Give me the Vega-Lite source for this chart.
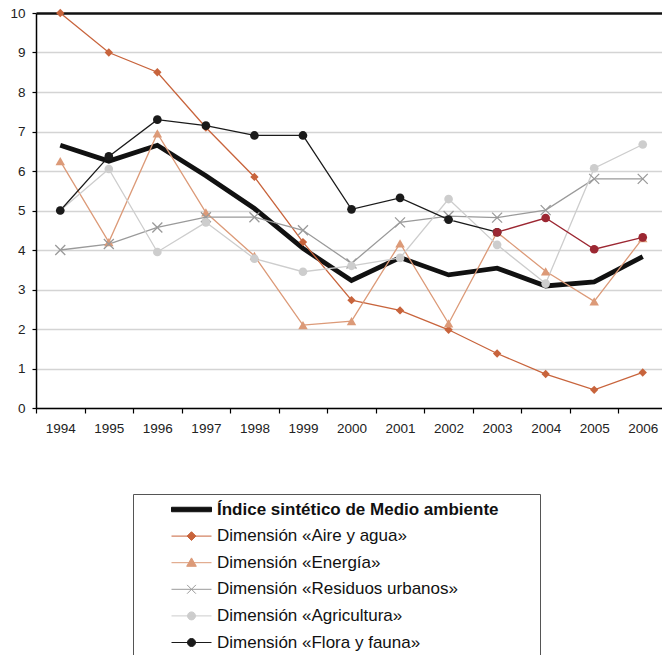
{
  "$schema": "https://vega.github.io/schema/vega-lite/v6.json",
  "width": 626,
  "height": 395,
  "autosize": {"type": "none"},
  "padding": {"left": 36, "top": 13, "right": 0, "bottom": 247},
  "background": "white",
  "config": {
    "view": {"stroke": null},
    "font": "Liberation Sans",
    "axis": {"labelFont": "Liberation Sans", "labelFontSize": 13.5, "labelColor": "#222", "domainColor": "#000", "tickColor": "#000", "title": null},
    "legend": {"title": null, "orient": "none", "legendX": 97, "legendY": 481,
      "strokeColor": "#555", "padding": 7, "symbolOpacity": 1, "symbolSize": 256, "symbolStrokeWidth": 1,
      "symbolOffset": 43, "labelOffset": 17, "rowPadding": 8.6,
      "labelFont": "Liberation Sans", "labelFontSize": 17, "labelColor": "#111", "labelLimit": 400}
  },
  "data": {"values": [
    {"anio": "1994", "serie": "Índice sintético de Medio ambiente", "valor": 6.65},
    {"anio": "1995", "serie": "Índice sintético de Medio ambiente", "valor": 6.25},
    {"anio": "1996", "serie": "Índice sintético de Medio ambiente", "valor": 6.65},
    {"anio": "1997", "serie": "Índice sintético de Medio ambiente", "valor": 5.88},
    {"anio": "1998", "serie": "Índice sintético de Medio ambiente", "valor": 5.05},
    {"anio": "1999", "serie": "Índice sintético de Medio ambiente", "valor": 4.04},
    {"anio": "2000", "serie": "Índice sintético de Medio ambiente", "valor": 3.23},
    {"anio": "2001", "serie": "Índice sintético de Medio ambiente", "valor": 3.81},
    {"anio": "2002", "serie": "Índice sintético de Medio ambiente", "valor": 3.37},
    {"anio": "2003", "serie": "Índice sintético de Medio ambiente", "valor": 3.54},
    {"anio": "2004", "serie": "Índice sintético de Medio ambiente", "valor": 3.09},
    {"anio": "2005", "serie": "Índice sintético de Medio ambiente", "valor": 3.19},
    {"anio": "2006", "serie": "Índice sintético de Medio ambiente", "valor": 3.83},
    {"anio": "1994", "serie": "Dimensión «Aire y agua»", "valor": 10.0},
    {"anio": "1995", "serie": "Dimensión «Aire y agua»", "valor": 9.0},
    {"anio": "1996", "serie": "Dimensión «Aire y agua»", "valor": 8.5},
    {"anio": "1997", "serie": "Dimensión «Aire y agua»", "valor": 7.1},
    {"anio": "1998", "serie": "Dimensión «Aire y agua»", "valor": 5.85},
    {"anio": "1999", "serie": "Dimensión «Aire y agua»", "valor": 4.2},
    {"anio": "2000", "serie": "Dimensión «Aire y agua»", "valor": 2.73},
    {"anio": "2001", "serie": "Dimensión «Aire y agua»", "valor": 2.47},
    {"anio": "2002", "serie": "Dimensión «Aire y agua»", "valor": 1.98},
    {"anio": "2003", "serie": "Dimensión «Aire y agua»", "valor": 1.38},
    {"anio": "2004", "serie": "Dimensión «Aire y agua»", "valor": 0.86},
    {"anio": "2005", "serie": "Dimensión «Aire y agua»", "valor": 0.46},
    {"anio": "2006", "serie": "Dimensión «Aire y agua»", "valor": 0.9},
    {"anio": "1994", "serie": "Dimensión «Energía»", "valor": 6.25},
    {"anio": "1995", "serie": "Dimensión «Energía»", "valor": 4.2},
    {"anio": "1996", "serie": "Dimensión «Energía»", "valor": 6.95},
    {"anio": "1997", "serie": "Dimensión «Energía»", "valor": 4.95},
    {"anio": "1998", "serie": "Dimensión «Energía»", "valor": 3.85},
    {"anio": "1999", "serie": "Dimensión «Energía»", "valor": 2.1},
    {"anio": "2000", "serie": "Dimensión «Energía»", "valor": 2.2},
    {"anio": "2001", "serie": "Dimensión «Energía»", "valor": 4.17},
    {"anio": "2002", "serie": "Dimensión «Energía»", "valor": 2.14},
    {"anio": "2003", "serie": "Dimensión «Energía»", "valor": 4.45},
    {"anio": "2004", "serie": "Dimensión «Energía»", "valor": 3.46},
    {"anio": "2005", "serie": "Dimensión «Energía»", "valor": 2.7},
    {"anio": "2006", "serie": "Dimensión «Energía»", "valor": 4.3},
    {"anio": "1994", "serie": "Dimensión «Residuos urbanos»", "valor": 4.0},
    {"anio": "1995", "serie": "Dimensión «Residuos urbanos»", "valor": 4.15},
    {"anio": "1996", "serie": "Dimensión «Residuos urbanos»", "valor": 4.57},
    {"anio": "1997", "serie": "Dimensión «Residuos urbanos»", "valor": 4.83},
    {"anio": "1998", "serie": "Dimensión «Residuos urbanos»", "valor": 4.83},
    {"anio": "1999", "serie": "Dimensión «Residuos urbanos»", "valor": 4.5},
    {"anio": "2000", "serie": "Dimensión «Residuos urbanos»", "valor": 3.66},
    {"anio": "2001", "serie": "Dimensión «Residuos urbanos»", "valor": 4.7},
    {"anio": "2002", "serie": "Dimensión «Residuos urbanos»", "valor": 4.86},
    {"anio": "2003", "serie": "Dimensión «Residuos urbanos»", "valor": 4.82},
    {"anio": "2004", "serie": "Dimensión «Residuos urbanos»", "valor": 5.01},
    {"anio": "2005", "serie": "Dimensión «Residuos urbanos»", "valor": 5.8},
    {"anio": "2006", "serie": "Dimensión «Residuos urbanos»", "valor": 5.8},
    {"anio": "1994", "serie": "Dimensión «Agricultura»", "valor": 5.0},
    {"anio": "1995", "serie": "Dimensión «Agricultura»", "valor": 6.05},
    {"anio": "1996", "serie": "Dimensión «Agricultura»", "valor": 3.95},
    {"anio": "1997", "serie": "Dimensión «Agricultura»", "valor": 4.7},
    {"anio": "1998", "serie": "Dimensión «Agricultura»", "valor": 3.78},
    {"anio": "1999", "serie": "Dimensión «Agricultura»", "valor": 3.45},
    {"anio": "2000", "serie": "Dimensión «Agricultura»", "valor": 3.6},
    {"anio": "2001", "serie": "Dimensión «Agricultura»", "valor": 3.8},
    {"anio": "2002", "serie": "Dimensión «Agricultura»", "valor": 5.29},
    {"anio": "2003", "serie": "Dimensión «Agricultura»", "valor": 4.13},
    {"anio": "2004", "serie": "Dimensión «Agricultura»", "valor": 3.15},
    {"anio": "2005", "serie": "Dimensión «Agricultura»", "valor": 6.07},
    {"anio": "2006", "serie": "Dimensión «Agricultura»", "valor": 6.67},
    {"anio": "1994", "serie": "Dimensión «Flora y fauna»", "valor": 5.0},
    {"anio": "1995", "serie": "Dimensión «Flora y fauna»", "valor": 6.37},
    {"anio": "1996", "serie": "Dimensión «Flora y fauna»", "valor": 7.3},
    {"anio": "1997", "serie": "Dimensión «Flora y fauna»", "valor": 7.15},
    {"anio": "1998", "serie": "Dimensión «Flora y fauna»", "valor": 6.9},
    {"anio": "1999", "serie": "Dimensión «Flora y fauna»", "valor": 6.9},
    {"anio": "2000", "serie": "Dimensión «Flora y fauna»", "valor": 5.03},
    {"anio": "2001", "serie": "Dimensión «Flora y fauna»", "valor": 5.32},
    {"anio": "2002", "serie": "Dimensión «Flora y fauna»", "valor": 4.77},
    {"anio": "2003", "serie": "Dimensión «Flora y fauna»", "valor": 4.45},
    {"anio": "2003", "serie": "Flora y fauna (serie nueva)", "valor": 4.45},
    {"anio": "2004", "serie": "Flora y fauna (serie nueva)", "valor": 4.81},
    {"anio": "2005", "serie": "Flora y fauna (serie nueva)", "valor": 4.02},
    {"anio": "2006", "serie": "Flora y fauna (serie nueva)", "valor": 4.32}
  ]},
  "encoding": {
    "x": {"field": "anio", "type": "ordinal", "sort": null,
      "scale": {"paddingInner": 0, "paddingOuter": 0, "range": [0, 631]},
      "axis": {"labelAngle": 0, "tickBand": "extent", "tickSize": 5, "labelPadding": 8, "domainWidth": 1.5, "tickWidth": 1.2, "grid": false}},
    "y": {"field": "valor", "type": "quantitative",
      "scale": {"domain": [0, 10], "nice": false},
      "axis": {"values": [0,1,2,3,4,5,6,7,8,9,10], "tickSize": 4, "labelPadding": 7, "domainWidth": 1.5, "tickWidth": 1.2, "grid": true,
        "gridColor": {"condition": {"test": "datum.value == 10", "value": "#111"}, "value": "#d4d4d4"},
        "gridWidth": {"condition": {"test": "datum.value == 10", "value": 2.5}, "value": 1.5}}}
  },
  "layer": [
    {
      "transform": [{"filter": "datum.serie == 'Índice sintético de Medio ambiente'"}],
      "mark": {"type": "line", "color": "#111", "strokeWidth": 4.8}
    },
    {
      "transform": [{"filter": "datum.serie != 'Índice sintético de Medio ambiente'"}],
      "mark": {"type": "line", "strokeWidth": 1.3},
      "encoding": {
        "color": {"field": "serie", "type": "nominal", "legend": null,
          "scale": {"domain": ["Dimensión «Aire y agua»", "Dimensión «Energía»", "Dimensión «Residuos urbanos»", "Dimensión «Agricultura»", "Dimensión «Flora y fauna»", "Flora y fauna (serie nueva)"],
            "range": ["#c8643c", "#dc9a78", "#9a9a9a", "#cdcdcd", "#1a1a1a", "#9c2732"]}}
      }
    },
    {
      "transform": [{"filter": "datum.serie == 'Dimensión «Aire y agua»'"}],
      "mark": {"type": "point", "shape": "diamond", "filled": true, "opacity": 1, "size": 70, "color": "#c8643c"}
    },
    {
      "transform": [{"filter": "datum.serie == 'Dimensión «Energía»'"}],
      "mark": {"type": "point", "shape": "triangle-up", "filled": true, "opacity": 1, "size": 90, "color": "#dc9a78"}
    },
    {
      "transform": [{"filter": "datum.serie == 'Dimensión «Residuos urbanos»'"}],
      "mark": {"type": "point", "shape": "M-1,-1L1,1M-1,1L1,-1", "filled": false, "opacity": 1, "size": 100, "strokeWidth": 1.3, "color": "#9a9a9a"}
    },
    {
      "transform": [{"filter": "datum.serie == 'Dimensión «Agricultura»'"}],
      "mark": {"type": "point", "shape": "circle", "filled": true, "opacity": 1, "size": 75, "color": "#cdcdcd"}
    },
    {
      "transform": [{"filter": "datum.serie == 'Dimensión «Flora y fauna»'"}],
      "mark": {"type": "point", "shape": "circle", "filled": true, "opacity": 1, "size": 75, "color": "#1a1a1a"}
    },
    {
      "transform": [{"filter": "datum.serie == 'Flora y fauna (serie nueva)'"}],
      "mark": {"type": "point", "shape": "circle", "filled": true, "opacity": 1, "size": 75, "color": "#9c2732"}
    },
    {
      "transform": [{"filter": "datum.serie != 'Flora y fauna (serie nueva)'"}],
      "mark": {"type": "point", "filled": true, "opacity": 0},
      "encoding": {
        "fill": {"field": "serie", "type": "nominal",
          "scale": {"domain": ["Índice sintético de Medio ambiente", "Dimensión «Aire y agua»", "Dimensión «Energía»", "Dimensión «Residuos urbanos»", "Dimensión «Agricultura»", "Dimensión «Flora y fauna»"],
            "range": ["#111111", "#c8643c", "#dc9a78", "#9a9a9a", "#cdcdcd", "#1a1a1a"]},
          "legend": {"labelFontWeight": {"expr": "datum.value === 'Índice sintético de Medio ambiente' ? 'bold' : 'normal'"}}},
        "stroke": {"field": "serie", "type": "nominal",
          "scale": {"domain": ["Índice sintético de Medio ambiente", "Dimensión «Aire y agua»", "Dimensión «Energía»", "Dimensión «Residuos urbanos»", "Dimensión «Agricultura»", "Dimensión «Flora y fauna»"],
            "range": ["#111111", "#c8643c", "#dc9a78", "#9a9a9a", "#cdcdcd", "#1a1a1a"]},
          "legend": {"labelFontWeight": {"expr": "datum.value === 'Índice sintético de Medio ambiente' ? 'bold' : 'normal'"}}},
        "shape": {"field": "serie", "type": "nominal",
          "scale": {"domain": ["Índice sintético de Medio ambiente", "Dimensión «Aire y agua»", "Dimensión «Energía»", "Dimensión «Residuos urbanos»", "Dimensión «Agricultura»", "Dimensión «Flora y fauna»"],
            "range": [
              "M-2.5,-0.28H2.5V0.28H-2.5ZM42.4,0",
              "M-2.5,0H2.5M0,-0.55L0.55,0L0,0.55L-0.55,0Z",
              "M-2.5,0H2.5M0,-0.6L0.6,0.45L-0.6,0.45Z",
              "M-2.5,0H2.5M-0.55,-0.55L0.55,0.55M-0.55,0.55L0.55,-0.55",
              "M-2.5,0H2.5M-0.5,0A0.5,0.5 0 1,0 0.5,0A0.5,0.5 0 1,0 -0.5,0Z",
              "M-2.5,0H2.5M-0.5,0A0.5,0.5 0 1,0 0.5,0A0.5,0.5 0 1,0 -0.5,0Z"
            ]},
          "legend": {"labelFontWeight": {"expr": "datum.value === 'Índice sintético de Medio ambiente' ? 'bold' : 'normal'"}}}
      }
    }
  ]
}
